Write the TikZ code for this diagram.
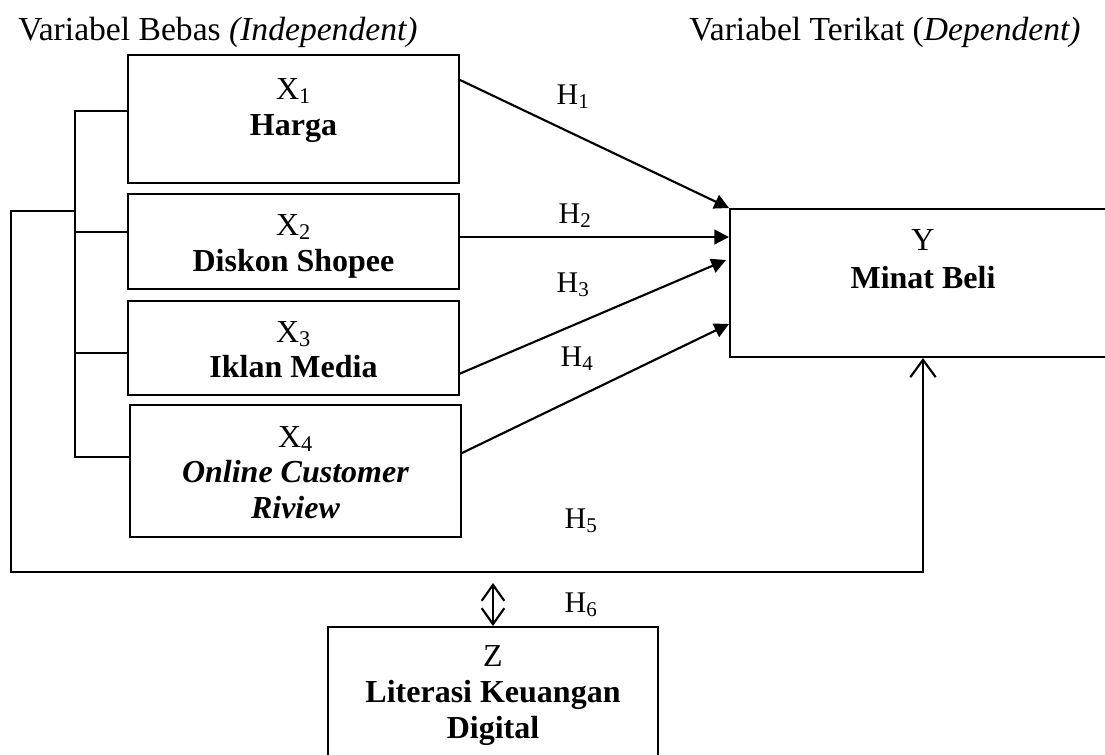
\documentclass[tikz,border=0pt]{standalone}
\usepackage{fontspec}
\setmainfont{Liberation Serif}
\usetikzlibrary{arrows.meta,calc}
\begin{document}
\begin{tikzpicture}[x=0.75pt,y=-0.75pt,
  box/.style={draw, line width=1.5pt, inner sep=0pt},
  lbl/.style={anchor=base, inner sep=0pt, font=\fontsize{24}{29}\selectfont},
  hd/.style={anchor=base west, inner sep=0pt, font=\fontsize{25.2}{30}\selectfont},
  hyp/.style={anchor=base, inner sep=0pt, font=\fontsize{22.5}{27}\selectfont},
  conn/.style={line width=1.6pt},
  arr/.style={conn, -{Triangle[length=11pt,width=11pt]}},
  openarr/.style={conn, -{Straight Barb[length=13pt,width=19pt]}},
  dblarr/.style={conn, {Straight Barb[length=12pt,width=17pt]}-{Straight Barb[length=12pt,width=17pt]}}]
\useasboundingbox (0,0) rectangle (1105,754);
\clip (0,0) rectangle (1105,754);

% headings
\node[hd] (hb) at (18,40) {Variabel Bebas \textit{(Independent)}};
\node[hd] (ht) at (689,40) {Variabel Terikat (\textit{Dependent)}};

% boxes
\node[box, minimum width=248.25pt, minimum height=96pt] (x1) at (293.5,119) {};
\node[box, minimum width=248.25pt, minimum height=71.25pt] (x2) at (293.5,241.5) {};
\node[box, minimum width=248.25pt, minimum height=70.5pt] (x3) at (293.5,348) {};
\node[box, minimum width=248.25pt, minimum height=99pt] (x4) at (295.5,471) {};
\node[box, minimum width=289.5pt, minimum height=111pt] (y) at (923,283) {};
\node[box, minimum width=247.5pt, minimum height=122.25pt] (z) at (493,708.5) {};

% box texts
\node[lbl] (x1a) at (293.5,99) {X\textsubscript{1}};
\node[lbl] (x1b) at (293.5,135) {\textbf{Harga}};
\node[lbl] (x2a) at (293.5,235) {X\textsubscript{2}};
\node[lbl] (x2b) at (293.5,271) {\textbf{Diskon Shopee}};
\node[lbl] (x3a) at (293.5,342) {X\textsubscript{3}};
\node[lbl] (x3b) at (293.5,377) {\textbf{Iklan Media}};
\node[lbl] (x4a) at (295.5,447) {X\textsubscript{4}};
\node[lbl] (x4b) at (295.5,482) {\textbf{\textit{Online Customer}}};
\node[lbl] (x4c) at (295.5,518) {\textbf{\textit{Riview}}};
\node[lbl] (ya) at (923,250) {Y};
\node[lbl] (yb) at (923,288) {\textbf{Minat Beli}};
\node[lbl] (za) at (493,666) {Z};
\node[lbl] (zb) at (493,702) {\textbf{Literasi Keuangan}};
\node[lbl] (zc) at (493,738) {\textbf{Digital}};

% hypothesis labels
\node[hyp] (h1) at (573,104) {H\textsubscript{1}};
\node[hyp] (h2) at (575,223) {H\textsubscript{2}};
\node[hyp] (h3) at (573,292) {H\textsubscript{3}};
\node[hyp] (h4) at (577,366) {H\textsubscript{4}};
\node[hyp] (h5) at (581,528) {H\textsubscript{5}};
\node[hyp] (h6) at (581,612) {H\textsubscript{6}};

% arrows X -> Y
\draw[arr] ($(x1.north east)+(0,26)$) -- (y.north west);
\draw[arr] ($(x2.north east)+(0,44)$) -- ($(y.north west)+(0,29)$);
\draw[arr] ($(x3.north east)+(-1,74)$) -- ($(y.north west)+(-3,52)$);
\draw[arr] ($(x4.north east)+(0,49)$) -- ($(y.north west)+(0,116)$);

% bracket joining the X boxes
\coordinate (b1) at (75,111);
\coordinate (b2) at (75,232);
\coordinate (b3) at (75,353);
\coordinate (b4) at (75,457);
\coordinate (lp) at (75,211);
\draw[conn] (b1 -| x1.west) -- (b1) -- (b4) -- (b4 -| x4.west);
\draw[conn] (b2) -- (b2 -| x2.west);
\draw[conn] (b3) -- (b3 -| x3.west);

% H5 loop to Y
\coordinate (lc1) at (11,211);
\coordinate (lc2) at (11,572);
\draw[openarr] (lp) -- (lc1) -- (lc2) -| (y.south);

% H6 double arrow
\coordinate (h6t) at (493,583);
\draw[dblarr] (h6t) -- (z.north);
\end{tikzpicture}
\end{document}
